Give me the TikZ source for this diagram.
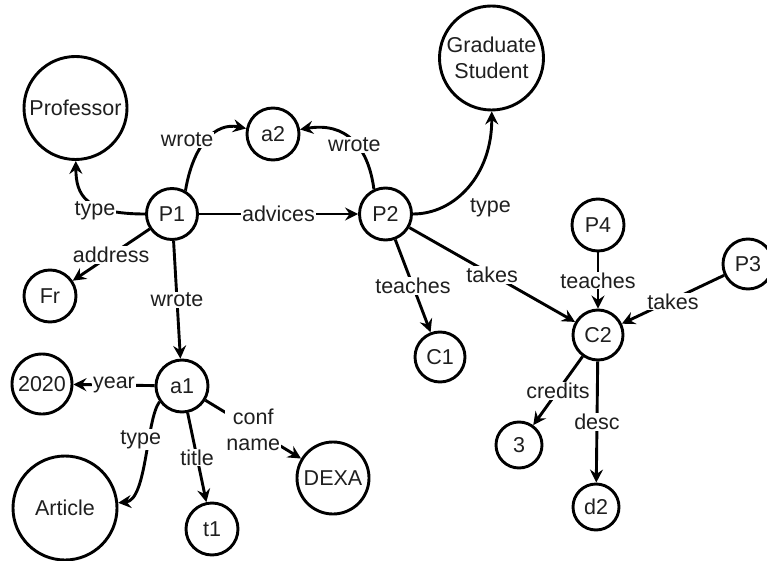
\documentclass[tikz,border=0pt]{standalone}
\usepackage{fontspec}
\setmainfont{Liberation Sans}
\usetikzlibrary{arrows.meta}
\begin{document}
\begin{tikzpicture}[x=1pt,y=-1pt,
  every node/.style={font=\fontsize{21.5}{26}\selectfont,text=black!88},
  ent/.style={circle,draw,line width=2.9pt,inner sep=0pt,minimum size=#1},
  ent/.default=52pt,
  lbl/.style={fill=white,inner sep=1pt,align=center},
  rel/.style={line width=2.9pt,-{Stealth[length=13pt,width=13pt,inset=4.5pt]}}]
\useasboundingbox (0,0) rectangle (767,561);
% entities
\node[ent=103pt] (prof) at (75.5,108) {Professor};
\node[ent] (a2) at (273,134) {a2};
\node[ent=51pt] (p1) at (172,214) {P1};
\node[ent] (p2) at (385.5,214) {P2};
\node[ent=104pt,align=center] (gs) at (491.5,58) {Graduate\\Student};
\node[ent] (p4) at (598,225) {P4};
\node[ent=50pt] (p3) at (748,264) {P3};
\node[ent=50pt] (c2) at (598,335) {C2};
\node[ent=50pt] (c1) at (440,357) {C1};
\node[ent=46pt] (n3) at (519,445) {3};
\node[ent=46pt] (d2) at (596,507) {d2};
\node[ent] (fr) at (50,296) {Fr};
\node[ent=60pt] (y2020) at (42,384) {2020};
\node[ent] (a1) at (182,386) {a1};
\node[ent=104pt] (art) at (65,508) {Article};
\node[ent] (t1) at (212,529) {t1};
\node[ent=72pt] (dexa) at (333,478) {DEXA};
% relations
\draw[rel] (p1) .. controls (85,214) and (76,195) .. (prof)
  node[lbl,pos=0.35,xshift=-4pt,yshift=-4pt]{type};
\draw[rel] (p1.60) .. controls (193,145) and (215,122) .. (a2)
  node[lbl,pos=0.4,xshift=-14pt,yshift=7.5pt]{wrote};
\draw[rel] (p2.115) .. controls (368,145) and (345,122) .. (a2)
  node[lbl,pos=0.4,xshift=-4pt,yshift=2pt]{wrote};
\draw[rel] (p1) -- node[lbl]{advices} (p2);
\draw[rel] (p1) -- node[lbl]{address} (fr);
\draw[rel] (p1) -- node[lbl]{wrote} (a1);
\draw[rel] (p2) .. controls (455,214) and (492,175) .. (gs)
  node[lbl,pos=0.45,anchor=north west,xshift=4pt,yshift=-5pt]{type};
\draw[rel] (p2) -- node[lbl]{teaches} (c1);
\draw[rel] (p2) -- node[lbl]{takes} (c2);
\draw[rel] (p4) -- node[lbl]{teaches} (c2);
\draw[rel] (p3) -- node[lbl,yshift=-2pt]{takes} (c2);
\draw[rel] (a1) -- node[lbl]{year} (y2020);
\draw[rel] (a1.215) .. controls (146,420) and (147,500) .. (art)
  node[lbl,pos=0.35,xshift=-8pt,yshift=-2pt]{type};
\draw[rel] (a1) -- node[lbl]{title} (t1);
\draw[rel] (a1) -- node[lbl]{conf\\name} (dexa);
\draw[rel] (c2) -- node[lbl]{credits} (n3);
\draw[rel] (c2) -- node[lbl]{desc} (d2);
\end{tikzpicture}
\end{document}
